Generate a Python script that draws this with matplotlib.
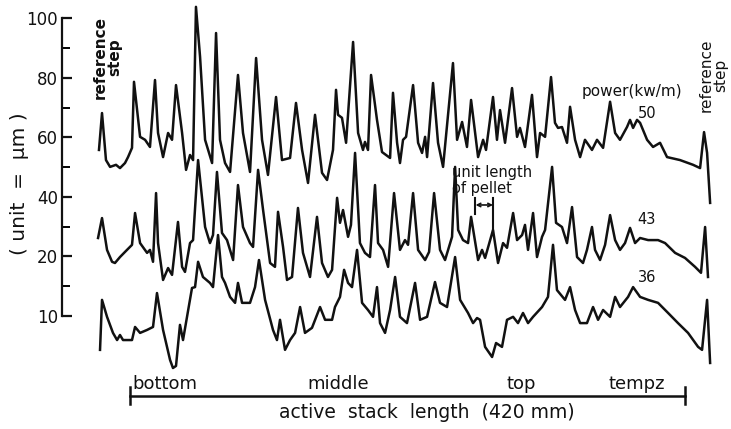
import matplotlib
matplotlib.use("Agg")
import matplotlib.pyplot as plt
import numpy as np

# profilometer traces, x = position along stack (mm), y = diameter change (axis units)
trace_50 = [(-23.5, 55.8), (-21.2, 68.2), (-18.2, 52.4), (-15.1, 50.1), (-10.6, 50.8), (-7.6, 49.7),
            (-3.8, 51.4), (-1.5, 53.4), (1.5, 56.5), (3.0, 78.7), (7.6, 60.2), (11.4, 59.2), (15.1, 56.8),
            (18.9, 79.3), (21.2, 61.5), (25.0, 53.4), (28.8, 61.5), (31.8, 59.2), (34.8, 77.6), (39.4, 61.5),
            (42.4, 49.1), (45.4, 54.1), (47.7, 52.4), (49.9, 103.9), (53.0, 87.1), (56.8, 59.2), (62.1, 51.4),
            (65.1, 95.1), (68.1, 59.2), (71.9, 51.4), (75.7, 48.4), (81.7, 81.0), (85.5, 61.5), (90.8, 48.4),
            (95.4, 86.7), (99.9, 59.2), (104.4, 47.4), (110.5, 73.6), (115.0, 52.4), (121.1, 53.1),
            (125.6, 71.6), (130.2, 55.8), (134.7, 44.7), (140.0, 67.6), (145.3, 48.1), (149.1, 45.7),
            (153.6, 55.8), (155.9, 76.0), (157.4, 67.6), (160.4, 66.6), (163.5, 58.2), (168.8, 92.1),
            (172.6, 61.5), (176.3, 55.8), (177.8, 58.5), (180.1, 55.8), (182.4, 81.0), (186.9, 65.9),
            (190.7, 55.1), (196.8, 53.1), (199.0, 75.0), (202.1, 58.2), (204.3, 51.4), (206.6, 59.2),
            (208.9, 60.2), (214.2, 77.6), (218.0, 58.2), (221.0, 54.8), (223.3, 60.2), (224.8, 53.4),
            (229.3, 78.3), (233.1, 58.2), (236.9, 50.1), (244.4, 85.0), (247.5, 59.2), (251.3, 65.2),
            (255.0, 56.8), (258.1, 72.6), (263.4, 53.4), (267.2, 59.2), (269.4, 55.8), (274.7, 73.6),
            (277.7, 59.2), (280.0, 69.2), (283.8, 58.2), (289.1, 76.6), (292.9, 60.2), (295.1, 63.2),
            (298.9, 56.8), (304.2, 74.3), (308.0, 53.4), (310.3, 61.5), (314.1, 60.2), (318.6, 80.3),
            (321.6, 64.9), (323.9, 63.2), (326.9, 63.5), (330.7, 58.2), (333.0, 70.3), (336.8, 59.2),
            (340.6, 53.4), (344.3, 59.2), (349.6, 55.8), (353.4, 59.2), (358.0, 56.5), (363.3, 72.0),
            (367.1, 61.5), (370.8, 59.2), (376.1, 63.5), (378.4, 65.9), (380.7, 63.2), (383.7, 65.9),
            (386.0, 64.9), (391.3, 59.2), (395.8, 56.8), (401.1, 58.2), (406.4, 53.4), (416.2, 52.4),
            (426.1, 50.8), (431.4, 49.7), (434.4, 61.8), (436.7, 54.8), (439.0, 38.0)]

trace_43 = [(-24.2, 26.2), (-21.2, 32.9), (-17.4, 22.2), (-13.6, 18.2), (-11.4, 17.8), (-7.6, 19.8),
            (-2.3, 22.2), (1.5, 23.9), (3.8, 34.6), (7.6, 24.5), (12.9, 21.2), (15.1, 22.2), (17.4, 18.2),
            (19.7, 41.3), (21.2, 24.5), (25.0, 12.1), (28.8, 16.1), (31.8, 13.8), (36.3, 31.6), (39.4, 16.5),
            (41.6, 14.8), (45.4, 24.5), (47.7, 25.5), (51.5, 52.4), (56.8, 29.9), (60.5, 24.5), (62.8, 27.2),
            (65.8, 48.4), (69.6, 27.9), (73.4, 25.5), (78.0, 18.8), (81.7, 44.0), (85.5, 29.9), (90.8, 24.5),
            (93.1, 23.2), (96.9, 49.1), (100.7, 35.6), (106.0, 17.8), (109.7, 16.5), (112.0, 35.0),
            (115.8, 23.2), (118.8, 12.1), (122.6, 13.1), (127.1, 36.3), (130.9, 21.2), (136.2, 13.1),
            (141.5, 33.3), (145.3, 17.8), (149.8, 13.1), (152.9, 15.5), (156.7, 39.7), (158.9, 31.3),
            (161.2, 35.6), (165.0, 26.6), (167.2, 30.6), (170.3, 54.8), (174.0, 24.5), (177.8, 21.2),
            (181.6, 19.8), (185.4, 44.0), (187.7, 24.5), (191.5, 22.2), (195.3, 16.5), (199.8, 41.3),
            (204.3, 22.2), (208.1, 25.5), (210.4, 23.9), (214.2, 41.3), (218.0, 22.2), (223.3, 18.8),
            (226.3, 21.5), (230.1, 41.3), (234.6, 22.2), (238.4, 18.8), (243.7, 26.6), (246.0, 50.1),
            (248.3, 28.9), (252.0, 25.5), (255.8, 24.5), (258.1, 33.3), (263.4, 18.8), (266.4, 22.2),
            (268.7, 19.5), (274.7, 28.9), (278.5, 17.8), (282.3, 24.5), (285.3, 22.9), (289.9, 34.6),
            (292.9, 25.5), (296.7, 27.2), (298.9, 30.6), (301.2, 22.2), (305.0, 34.6), (308.0, 19.8),
            (311.8, 26.6), (314.1, 28.9), (319.4, 50.1), (322.4, 31.3), (326.9, 29.9), (330.7, 24.5),
            (334.5, 36.6), (338.3, 19.8), (342.8, 17.8), (345.8, 22.2), (349.6, 29.9), (351.9, 22.2),
            (355.7, 18.8), (359.5, 23.9), (363.3, 33.9), (367.1, 25.5), (370.8, 22.2), (374.6, 24.5),
            (378.4, 29.6), (382.2, 24.5), (386.0, 26.2), (392.1, 25.5), (399.6, 25.5), (404.9, 24.5),
            (412.5, 21.2), (420.0, 19.5), (427.6, 16.5), (432.1, 14.5), (435.2, 29.9), (437.4, 13.1)]

trace_36 = [(-22.7, -11.4), (-21.2, 5.4), (-17.4, -0.3), (-12.9, -5.7), (-9.8, -8.1), (-7.6, -6.4),
            (-5.3, -8.1), (1.5, -8.1), (3.8, -3.7), (7.6, -5.7), (12.9, -4.7), (17.4, -3.7), (20.4, 7.7),
            (25.0, -4.7), (30.3, -14.8), (32.5, -17.5), (34.8, -16.8), (37.8, -3.0), (40.1, -8.1),
            (46.9, 9.4), (49.2, 9.7), (51.5, 18.2), (55.2, 13.1), (60.5, 11.1), (62.8, 9.7), (66.6, 27.2),
            (69.6, 13.1), (71.9, 11.1), (75.7, 6.4), (79.5, 4.4), (81.7, 11.1), (84.8, 4.4), (90.8, 4.4),
            (94.6, 9.7), (97.6, 18.8), (102.2, 5.4), (108.2, -4.7), (111.2, -8.1), (113.5, -1.3),
            (117.3, -11.4), (121.1, -8.1), (124.9, -5.7), (128.7, 3.0), (132.4, -5.7), (137.7, -4.0),
            (143.8, 3.0), (147.6, -1.3), (152.9, -1.3), (155.1, 3.0), (158.9, 6.4), (162.0, 15.5),
            (165.0, 11.1), (168.0, 9.7), (171.8, 22.2), (175.6, 4.4), (180.1, 2.0), (183.9, -0.3),
            (186.9, 9.7), (189.2, -2.4), (193.0, -5.7), (196.8, 2.0), (200.6, 13.1), (204.3, -0.3),
            (209.6, -2.4), (215.7, 11.1), (219.5, -1.3), (224.8, -0.3), (230.8, 11.4), (234.6, 4.4),
            (239.9, 3.0), (246.0, 19.8), (249.8, 5.4), (255.8, 1.0), (259.6, -2.4), (262.6, -0.7),
            (264.9, -1.3), (268.7, -10.4), (274.0, -13.8), (277.0, -9.1), (281.5, -10.4), (285.3, -1.3),
            (289.9, -0.3), (293.6, -2.4), (297.4, 1.0), (301.2, -2.4), (305.0, -0.3), (311.8, 3.0),
            (316.3, 6.4), (320.1, 23.9), (323.1, 8.7), (329.2, 5.4), (333.0, 9.7), (336.8, 2.0),
            (340.6, -2.4), (345.8, -2.4), (350.4, 3.0), (354.2, -1.3), (358.0, 2.0), (363.3, -0.3),
            (367.1, 6.4), (370.8, 3.0), (376.9, 6.4), (380.7, 9.7), (386.0, 6.4), (392.1, 5.4),
            (399.6, 4.4), (407.2, 1.0), (414.7, -2.4), (422.3, -5.7), (429.9, -10.4), (432.9, -11.4),
            (436.7, 5.4), (439.0, -15.8)]

ytick_pos = [0, 20, 40, 60, 80, 100]
ytick_labels = ["10", "20", "40", "60", "80", "100"]
ytick_minor = [10, 30, 50, 70, 90]

zones = ["bottom", "middle", "top", "tempz"]
zone_x = [2, 134, 285, 362]
stack_length = 420
powers = ["50", "43", "36"]
power_y = [68, 32.5, 12.8]

ink = "#111111"
plt.rcParams["font.family"] = ["DejaVu Sans"]

fig = plt.figure(figsize=(7.31, 4.29), dpi=100)
ax = fig.add_axes([0, 0, 1, 1])
ax.set_xlim(-98.4, 454.8)
ax.set_ylim(-38.0, 106.2)

for tr in (trace_50, trace_43, trace_36):
    arr = np.array(tr)
    ax.plot(arr[:, 0], arr[:, 1], color=ink, lw=1.8, solid_joinstyle="round")

# y axis
for s in ("top", "right", "bottom"):
    ax.spines[s].set_visible(False)
ax.spines["left"].set_position(("data", -51.5))
ax.spines["left"].set_bounds(0, 100)
ax.spines["left"].set_linewidth(1.6)
ax.spines["left"].set_color(ink)
ax.xaxis.set_visible(False)
ax.set_yticks(ytick_pos)
ax.set_yticklabels(ytick_labels)
ax.set_yticks(ytick_minor, minor=True)
ax.tick_params(axis="y", which="major", direction="in", length=7, width=1.6, pad=3,
               labelsize=12, colors=ink)
ax.tick_params(axis="y", which="minor", direction="in", length=6, width=1.4)
ax.text(-84, 44.5, "( unit  =  µm )", rotation=90, ha="center", va="center", fontsize=14.5, color=ink)

# stack length bar
ax.plot([0, stack_length], [-26.9, -26.9], color=ink, lw=1.8)
for xe in (0, stack_length):
    ax.plot([xe, xe], [-23.8, -29.6], color=ink, lw=1.8)
for name, xz in zip(zones, zone_x):
    ax.text(xz, -22.8, name, ha="left", va="center", fontsize=13, color=ink)
ax.text(224.8, -32.3, "active  stack  length  (420 mm)", ha="center", va="center",
        fontsize=13.5, color=ink)

# annotations
ax.text(-17, 87, "reference\nstep", rotation=90, ha="center", va="center", fontsize=11,
        fontweight="bold", color=ink, linespacing=0.9)
ax.text(441.5, 81, "reference\nstep", rotation=90, ha="center", va="center", fontsize=11,
        color=ink, linespacing=0.9)
ax.text(380, 75.5, "power(kw/m)", ha="center", va="center", fontsize=11, color=ink)
for p, py in zip(powers, power_y):
    ax.text(391, py, p, ha="center", va="center", fontsize=10.5, color=ink)
ax.text(244, 45.6, "unit length\nof pellet", ha="left", va="center", fontsize=10.5, color=ink,
        linespacing=1.1)
ax.annotate("", xy=(274.7, 37.3), xytext=(261.5, 37.3),
            arrowprops=dict(arrowstyle="<->", color=ink, lw=1.2, shrinkA=0, shrinkB=0,
                            mutation_scale=6))
ax.plot([261.1, 261.1], [39.7, 34.3], color=ink, lw=1.5)
ax.plot([274.7, 274.7], [39.7, 28.2], color=ink, lw=1.5)

fig.savefig("out.png", dpi=100)
